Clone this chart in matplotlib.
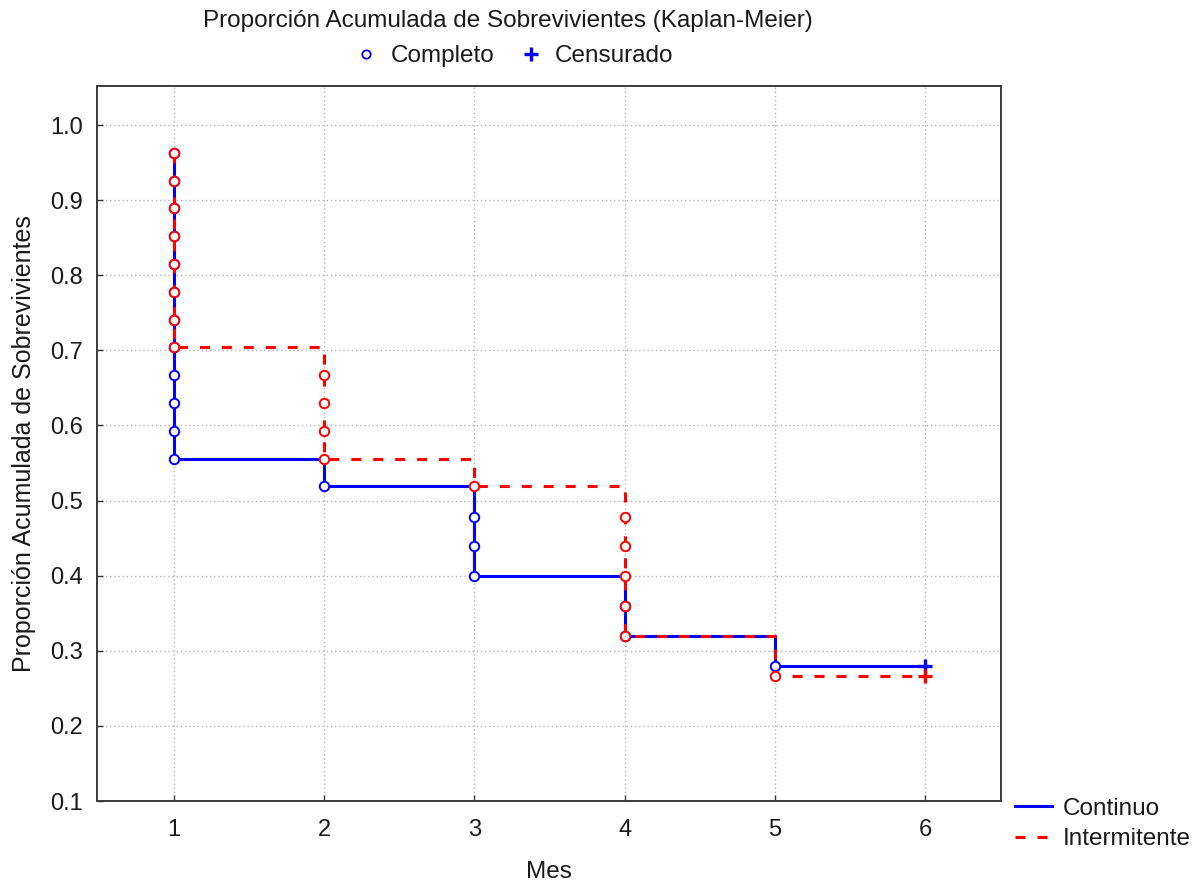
import matplotlib
matplotlib.use("Agg")
import matplotlib.pyplot as plt
from matplotlib.lines import Line2D

# ---- data ----
cont_times = [1]*12 + [2] + [3]*3 + [4]*2 + [5]
cont_surv = [0.963, 0.926, 0.889, 0.852, 0.815, 0.778, 0.741, 0.704,
             0.667, 0.630, 0.593, 0.556,
             0.519,
             0.478, 0.439, 0.399,
             0.360, 0.320,
             0.280]
cont_cens_t = [6]
cont_cens_s = [0.280]

int_times = [1]*8 + [2]*4 + [3] + [4]*5 + [5]
int_surv = [0.963, 0.926, 0.889, 0.852, 0.815, 0.778, 0.741, 0.704,
            0.667, 0.630, 0.593, 0.556,
            0.519,
            0.478, 0.439, 0.399, 0.360, 0.320,
            0.267]
int_cens_t = [6]
int_cens_s = [0.267]

xticks = [1, 2, 3, 4, 5, 6]
yticks = [0.1, 0.2, 0.3, 0.4, 0.5, 0.6, 0.7, 0.8, 0.9, 1.0]

title = "Proporción Acumulada de Sobrevivientes (Kaplan-Meier)"
ylabel = "Proporción Acumulada de Sobrevivientes"
xlabel = "Mes"
labels = ["Continuo", "Intermitente"]
marker_labels = ["Completo", "Censurado"]

# ---- style ----
plt.rcParams['font.family'] = ['Liberation Sans', 'DejaVu Sans']
plt.rcParams['lines.scale_dashes'] = False
TXT = '#1a1a1a'
BLUE = '#0000ff'
RED = '#ff0000'
DASH = (0, (7.2, 8.6))
FS = 17.5

W, H = 1198, 884
fig = plt.figure(figsize=(W/100, H/100), dpi=100)
L, R, T, B = 97, 1001, 86, 801
ax = fig.add_axes([L/W, 1-B/H, (R-L)/W, (B-T)/H])

mk = dict(marker='o', markersize=6.8, markerfacecolor='white', markeredgewidth=1.4)

# Continuo
ax.plot(cont_times + cont_cens_t, cont_surv + cont_cens_s, drawstyle='steps-post',
        color=BLUE, lw=2.2, zorder=3)
ax.plot(cont_times, cont_surv, linestyle='none', markeredgecolor=BLUE, zorder=4, **mk)
ax.plot(cont_cens_t, cont_cens_s, linestyle='none', marker='+', markersize=10,
        markeredgewidth=2.4, color=BLUE, zorder=4)

# Intermitente
ax.plot(int_times + int_cens_t, int_surv + int_cens_s, drawstyle='steps-post',
        color=RED, lw=2.2, linestyle=DASH, zorder=5)
ax.plot(int_times, int_surv, linestyle='none', markeredgecolor=RED, zorder=6, **mk)
ax.plot(int_cens_t, int_cens_s, linestyle='none', marker='+', markersize=10,
        markeredgewidth=2.4, color=RED, zorder=6)

ax.set_xlim(0.487, 6.506)
ax.set_ylim(0.1, 1.052)
ax.set_xticks(xticks)
ax.set_yticks(yticks)
ax.set_xticklabels([str(t) for t in xticks])
ax.set_yticklabels([f"{v:.1f}" for v in yticks])
ax.grid(True, color='#b4b4b4', linestyle=(0, (1, 2)), linewidth=1.0)
ax.set_axisbelow(True)
ax.tick_params(direction='in', length=4, width=1, colors='#333333',
               labelsize=17, labelcolor=TXT, pad=10)
ax.tick_params(axis='x', pad=13)
for s in ax.spines.values():
    s.set_color('#3a3a3a')
    s.set_linewidth(1.4)

ax.set_xlabel(xlabel, fontsize=FS, color=TXT, labelpad=14)
ax.set_ylabel(ylabel, fontsize=18, color=TXT, labelpad=10)

fig.text(508/W, 1-21/H, title, ha='center', va='center', fontsize=FS, color=TXT)

# top marker legend
h_top = [Line2D([], [], linestyle='none', marker='o', markersize=6, markerfacecolor='white',
                markeredgecolor=BLUE, markeredgewidth=1.3),
         Line2D([], [], linestyle='none', marker='+', markersize=10, markeredgewidth=2.4, color=BLUE)]
fig.legend(h_top, marker_labels, loc='center', bbox_to_anchor=(514/W, 1-56/H),
           ncol=2, frameon=False, fontsize=FS, labelcolor=TXT, handlelength=1.0,
           handletextpad=0.5, columnspacing=1.0)

# bottom-right line legend
h_bot = [Line2D([], [], color=BLUE, lw=2.2),
         Line2D([], [], color=RED, lw=2.2, linestyle=DASH)]
fig.legend(h_bot, labels, loc='upper left', bbox_to_anchor=(1010/W, 1-793/H),
           frameon=False, fontsize=FS, labelcolor=TXT, handlelength=1.52,
           handletextpad=0.45, labelspacing=0.35, borderpad=0.2, borderaxespad=0)

fig.savefig('out.png', dpi=100)
